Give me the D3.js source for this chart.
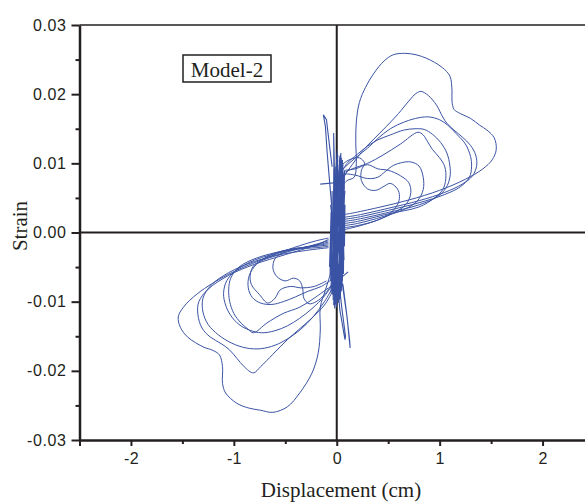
<!DOCTYPE html>
<html><head><meta charset="utf-8">
<script src="https://cdn.jsdelivr.net/npm/d3@7/dist/d3.min.js"></script>
<style>html,body{margin:0;padding:0;background:#fff;overflow:hidden}</style>
</head><body>
<svg id="chart" width="585" height="502"></svg>
<script>
// ---------- data (Displacement cm, Strain) ----------
const xTicks = [-2, -1, 0, 1, 2];
const xMinorTicks = [-2.5, -1.5, -0.5, 0.5, 1.5];
const yTicks = [-0.03, -0.02, -0.01, 0.00, 0.01, 0.02, 0.03];
const yMinorTicks = [-0.025, -0.015, -0.005, 0.005, 0.015, 0.025];
const xTitle = "Displacement (cm)";
const yTitle = "Strain";
const modelLabel = "Model-2";

// positive-side hysteresis loops
const loopP1 = [[0.07,0.0026],[0.15,0.0028],[0.4,0.0036],[0.7,0.0047],[1.0,0.0061],[1.25,0.0077],[1.42,0.0092],[1.51,0.0105],[1.55,0.0120],[1.53,0.0137],[1.46,0.0148],[1.39,0.0155],[1.30,0.0165],[1.20,0.0172],[1.14,0.0178],[1.12,0.0190],[1.12,0.0205],[1.10,0.0226],[1.03,0.0238],[0.95,0.0246],[0.87,0.0252],[0.77,0.0257],[0.66,0.0259],[0.55,0.0257],[0.46,0.0248],[0.36,0.0230],[0.28,0.0210],[0.22,0.0188],[0.19,0.0160],[0.185,0.0130],[0.19,0.0100],[0.17,0.0080],[0.10,0.0075],[0.04,0.0065]];
const loopP2 = [[0.07,0.0022],[0.2,0.0025],[0.5,0.0035],[0.8,0.0046],[1.05,0.0058],[1.22,0.0070],[1.32,0.0082],[1.36,0.0097],[1.35,0.0112],[1.30,0.0126],[1.22,0.0138],[1.14,0.0148],[1.07,0.0158],[1.03,0.0167],[0.97,0.0184],[0.89,0.0198],[0.82,0.0204],[0.77,0.0201],[0.70,0.0190],[0.60,0.0172],[0.48,0.0153],[0.36,0.0135],[0.25,0.0118],[0.15,0.0098],[0.07,0.0080],[0.03,0.0060]];
const loopP3 = [[0.07,0.0019],[0.2,0.0022],[0.5,0.0032],[0.8,0.0043],[1.05,0.0055],[1.2,0.0066],[1.29,0.0080],[1.31,0.0095],[1.30,0.0110],[1.25,0.0128],[1.16,0.0143],[1.08,0.0155],[1.00,0.0163],[0.90,0.0167],[0.80,0.0166],[0.66,0.0160],[0.52,0.0150],[0.40,0.0136],[0.30,0.0122],[0.20,0.0110],[0.12,0.0100],[0.05,0.0090]];
const loopP4 = [[0.07,0.0016],[0.2,0.0019],[0.5,0.0029],[0.8,0.0040],[0.98,0.0052],[1.06,0.0064],[1.10,0.0080],[1.10,0.0096],[1.07,0.0115],[1.01,0.0130],[0.93,0.0142],[0.85,0.0149],[0.76,0.0150],[0.65,0.0148],[0.52,0.0141],[0.40,0.0134],[0.30,0.0125],[0.20,0.0113],[0.10,0.0100],[0.04,0.0085]];
const loopP5 = [[0.07,0.0013],[0.2,0.0016],[0.5,0.0027],[0.8,0.0037],[0.95,0.0050],[1.03,0.0062],[1.06,0.0078],[1.05,0.0095],[1.00,0.0108],[0.93,0.0120],[0.88,0.0132],[0.84,0.0141],[0.79,0.0145],[0.62,0.0128],[0.45,0.0112],[0.30,0.0100],[0.15,0.0092],[0.05,0.0085]];
const loopP6 = [[0.07,0.0010],[0.2,0.0013],[0.45,0.0023],[0.65,0.0033],[0.78,0.0045],[0.84,0.0062],[0.84,0.0080],[0.80,0.0096],[0.72,0.0102],[0.63,0.0101],[0.55,0.0097],[0.47,0.0088],[0.40,0.0080],[0.30,0.0078],[0.18,0.0083],[0.08,0.0085]];
const loopP7 = [[0.07,0.0007],[0.2,0.0010],[0.4,0.0018],[0.52,0.0028],[0.59,0.0040],[0.61,0.0052],[0.59,0.0063],[0.52,0.0071],[0.45,0.0066],[0.38,0.0061],[0.30,0.0063],[0.24,0.0075],[0.24,0.0090],[0.27,0.0100],[0.22,0.0108],[0.12,0.0105],[0.05,0.0098]];
const loopP8 = [[0.07,0.0004],[0.3,0.0013],[0.55,0.0028],[0.68,0.0042],[0.72,0.0058],[0.70,0.0072],[0.62,0.0082],[0.50,0.0090],[0.40,0.0092],[0.30,0.0098],[0.18,0.0092],[0.08,0.0090]];

// negative-side hysteresis loops
const loopN1 = [[-0.08,-0.0008],[-0.2,-0.0012],[-0.42,-0.0022],[-0.74,-0.0040],[-1.06,-0.0061],[-1.35,-0.0088],[-1.49,-0.0108],[-1.54,-0.0122],[-1.52,-0.0137],[-1.45,-0.0151],[-1.29,-0.0166],[-1.21,-0.0170],[-1.14,-0.0177],[-1.11,-0.0194],[-1.11,-0.0218],[-1.08,-0.0232],[-0.97,-0.0247],[-0.85,-0.0254],[-0.74,-0.0257],[-0.62,-0.0260],[-0.48,-0.0252],[-0.36,-0.0232],[-0.24,-0.0203],[-0.18,-0.0174],[-0.16,-0.0141],[-0.16,-0.0108],[-0.11,-0.0083],[-0.05,-0.0054],[-0.01,-0.0025]];
const loopN2 = [[-0.08,-0.0010],[-0.2,-0.0018],[-0.5,-0.0032],[-0.8,-0.0046],[-1.05,-0.0062],[-1.25,-0.0082],[-1.34,-0.0100],[-1.35,-0.0118],[-1.31,-0.0138],[-1.23,-0.0151],[-1.12,-0.0161],[-1.04,-0.0170],[-0.97,-0.0182],[-0.90,-0.0194],[-0.81,-0.0203],[-0.74,-0.0194],[-0.62,-0.0176],[-0.48,-0.0155],[-0.35,-0.0138],[-0.23,-0.0122],[-0.12,-0.0105],[-0.04,-0.0085]];
const loopN3 = [[-0.08,-0.0012],[-0.2,-0.0017],[-0.5,-0.0029],[-0.8,-0.0042],[-1.05,-0.0058],[-1.22,-0.0076],[-1.30,-0.0095],[-1.30,-0.0115],[-1.25,-0.0133],[-1.15,-0.0148],[-1.02,-0.0160],[-0.88,-0.0167],[-0.74,-0.0168],[-0.60,-0.0163],[-0.47,-0.0153],[-0.35,-0.0140],[-0.23,-0.0122],[-0.12,-0.0100],[-0.04,-0.0080]];
const loopN4 = [[-0.08,-0.0014],[-0.2,-0.0018],[-0.5,-0.0027],[-0.8,-0.0040],[-0.98,-0.0055],[-1.07,-0.0070],[-1.10,-0.0088],[-1.08,-0.0105],[-1.03,-0.0120],[-0.95,-0.0133],[-0.85,-0.0141],[-0.73,-0.0145],[-0.60,-0.0142],[-0.48,-0.0135],[-0.36,-0.0124],[-0.24,-0.0110],[-0.12,-0.0092],[-0.04,-0.0075]];
const loopN5 = [[-0.08,-0.0016],[-0.2,-0.0019],[-0.5,-0.0026],[-0.78,-0.0037],[-0.95,-0.0050],[-1.03,-0.0066],[-1.05,-0.0082],[-1.04,-0.0100],[-1.00,-0.0117],[-0.93,-0.0131],[-0.86,-0.0140],[-0.81,-0.0145],[-0.68,-0.0131],[-0.52,-0.0117],[-0.36,-0.0108],[-0.22,-0.0095],[-0.08,-0.0080]];
const loopN6 = [[-0.08,-0.0018],[-0.2,-0.0020],[-0.45,-0.0024],[-0.65,-0.0033],[-0.78,-0.0046],[-0.85,-0.0062],[-0.86,-0.0080],[-0.82,-0.0094],[-0.74,-0.0102],[-0.63,-0.0104],[-0.52,-0.0100],[-0.40,-0.0093],[-0.28,-0.0085],[-0.15,-0.0078],[-0.05,-0.0068]];
const loopN7 = [[-0.08,-0.0020],[-0.2,-0.0022],[-0.38,-0.0024],[-0.52,-0.0029],[-0.60,-0.0038],[-0.62,-0.0052],[-0.58,-0.0064],[-0.50,-0.0070],[-0.42,-0.0066],[-0.36,-0.0070],[-0.33,-0.0082],[-0.32,-0.0095],[-0.27,-0.0103],[-0.20,-0.0100],[-0.12,-0.0090],[-0.05,-0.0075]];
const loopN8 = [[-0.08,-0.0022],[-0.3,-0.0026],[-0.6,-0.0034],[-0.80,-0.0047],[-0.84,-0.0060],[-0.83,-0.0075],[-0.75,-0.0090],[-0.67,-0.0102],[-0.60,-0.0095],[-0.55,-0.0083],[-0.45,-0.0078],[-0.35,-0.0080],[-0.22,-0.0078],[-0.10,-0.0070]];

// dense near-origin strokes
const coreStrokes = [[0.00,0.0100],[-0.02,-0.0095],[0.03,0.0110],[-0.04,-0.0090],[0.01,0.0105],[-0.05,-0.0085],[0.05,0.0095],[-0.01,-0.0100],[0.02,0.0090],[-0.03,-0.0105],[0.06,0.0080],[-0.06,-0.0070],[0.04,0.0115],[0.00,-0.0098],[-0.02,0.0085],[0.07,-0.0040],[0.03,0.0100],[-0.04,-0.0080],[0.08,0.0060],[-0.03,-0.0092],[0.01,0.0112],[-0.05,-0.0060],[0.05,0.0070],[0.02,-0.0090],[-0.01,0.0095],[0.06,-0.0050],[-0.06,0.0040],[0.04,-0.0075],[0.00,0.0080],[-0.02,-0.0110],[-0.03,0.0144],[-0.01,0.0000]];
const coreStrokes2 = [[0.075,0.0090],[0.065,-0.0060],[0.055,0.0105],[0.045,-0.0085],[0.06,0.0100],[0.035,-0.0095],[0.07,0.0070],[0.015,-0.0102],[0.045,0.0108],[0.025,-0.0098],[0.065,0.0085],[0.055,-0.0070],[0.035,0.0112],[-0.015,-0.0104],[0.025,0.0098],[-0.035,-0.0098],[-0.025,0.0092],[-0.055,-0.0088],[-0.045,0.0060],[-0.065,-0.0062],[-0.055,0.0030],[-0.07,-0.0050],[0.005,0.0118],[-0.005,-0.0108],[0.08,0.0040],[0.075,-0.0020]];
// stray excursions
const spikeUp = [[-0.045,0.0095],[-0.065,0.0119],[-0.085,0.0144],[-0.10,0.0163],[-0.13,0.0170],[-0.11,0.0153],[-0.095,0.0119],[-0.075,0.0083],[-0.05,0.0040]];
const strayFlat = [[-0.16,0.0070],[0.06,0.0073]];
const strayDiag = [[0.11,-0.0057],[-0.065,-0.0079]];
const spikeDownA = [[0.00,-0.0060],[0.03,-0.0112],[0.08,-0.0155],[0.085,-0.0150],[0.05,-0.0110],[0.02,-0.0070]];
const spikeDownB = [[0.05,-0.0070],[0.10,-0.0122],[0.13,-0.0167],[0.125,-0.0155],[0.09,-0.0110],[0.06,-0.0075]];

const loops = [loopP1, loopP2, loopP3, loopP4, loopP5, loopP6, loopP7, loopP8,
               loopN1, loopN2, loopN3, loopN4, loopN5, loopN6, loopN7, loopN8];
const strays = [coreStrokes, coreStrokes2, spikeUp, strayFlat, strayDiag, spikeDownA, spikeDownB];

// ---------- drawing ----------
const svg = d3.select("#chart");
const x = d3.scaleLinear().domain([-2.5, 2.5]).range([79.5, 594]);
const y = d3.scaleLinear().domain([-0.03, 0.03]).range([440, 25]);
const ink = "#231f20";
const blue = "#3a53a4";
const sans = "'Liberation Sans', Arial, sans-serif";
const serif = "'Liberation Serif', 'Times New Roman', serif";
const hyph = f => d => f(d).replace("\u2212", "-");

// zero cross lines
svg.append("line").attr("x1", x(-2.5)).attr("x2", x(2.5)).attr("y1", y(0)).attr("y2", y(0))
  .attr("stroke", ink).attr("stroke-width", 2);
svg.append("line").attr("x1", x(0)).attr("x2", x(0)).attr("y1", y(0.03)).attr("y2", y(-0.03))
  .attr("stroke", ink).attr("stroke-width", 2);

// data
const smooth = d3.line().x(d => x(d[0])).y(d => y(d[1])).curve(d3.curveCatmullRom.alpha(0.5));
const straight = d3.line().x(d => x(d[0])).y(d => y(d[1]));
svg.append("g").selectAll("path").data(strays).join("path")
  .attr("d", straight).attr("fill", "none").attr("stroke", blue).attr("stroke-width", 1.1);
svg.append("g").selectAll("path").data(loops).join("path")
  .attr("d", smooth).attr("fill", "none").attr("stroke", blue).attr("stroke-width", 1);

// frame top
svg.append("line").attr("x1", x(-2.5)).attr("x2", x(2.5)).attr("y1", y(0.03)).attr("y2", y(0.03))
  .attr("stroke", ink).attr("stroke-width", 1.5);

// left axis
const yAxis = svg.append("g").attr("transform", `translate(${x(-2.5)},0)`)
  .call(d3.axisLeft(y).tickValues(yTicks).tickFormat(hyph(d3.format(".2f"))).tickSize(8).tickSizeOuter(0));
yAxis.select(".domain").attr("stroke", ink).attr("stroke-width", 2.5);
yAxis.selectAll(".tick line").attr("stroke", ink).attr("stroke-width", 2);
yAxis.selectAll(".tick text").attr("font-family", sans).attr("font-size", 16)
  .attr("fill", ink).attr("x", -13).attr("letter-spacing", 0.6);
svg.append("g").attr("transform", `translate(${x(-2.5)},0)`)
  .call(d3.axisLeft(y).tickValues(yMinorTicks).tickFormat("").tickSize(4).tickSizeOuter(0))
  .call(g => g.select(".domain").remove())
  .selectAll(".tick line").attr("stroke", ink).attr("stroke-width", 2);

// bottom axis
const xAxis = svg.append("g").attr("transform", `translate(0,${y(-0.03)})`)
  .call(d3.axisBottom(x).tickValues(xTicks).tickFormat(hyph(d3.format("d"))).tickSize(6).tickSizeOuter(0));
xAxis.select(".domain").attr("stroke", ink).attr("stroke-width", 2.5);
xAxis.selectAll(".tick line").attr("stroke", ink).attr("stroke-width", 2);
xAxis.selectAll(".tick text").attr("font-family", sans).attr("font-size", 16)
  .attr("fill", ink).attr("y", 13).attr("letter-spacing", 0.3);
svg.append("g").attr("transform", `translate(0,${y(-0.03)})`)
  .call(d3.axisBottom(x).tickValues(xMinorTicks).tickFormat("").tickSize(4).tickSizeOuter(0))
  .call(g => g.select(".domain").remove())
  .selectAll(".tick line").attr("stroke", ink).attr("stroke-width", 2)
  .attr("y2", (d) => d === -2.5 ? 6 : 4);

// titles
svg.append("text").attr("x", 341).attr("y", 497).attr("text-anchor", "middle")
  .attr("font-family", serif).attr("font-size", 21).attr("fill", ink).text(xTitle);
svg.append("text").attr("transform", "translate(27,226) rotate(-90)").attr("text-anchor", "middle")
  .attr("font-family", serif).attr("font-size", 21).attr("fill", ink).text(yTitle);

// model label box
svg.append("rect").attr("x", 183).attr("y", 55).attr("width", 88).attr("height", 27)
  .attr("fill", "#fff").attr("stroke", ink).attr("stroke-width", 1.5);
svg.append("text").attr("x", 227).attr("y", 76.5).attr("text-anchor", "middle")
  .attr("font-family", serif).attr("font-size", 21).attr("fill", ink).text(modelLabel);
</script>
</body></html>
